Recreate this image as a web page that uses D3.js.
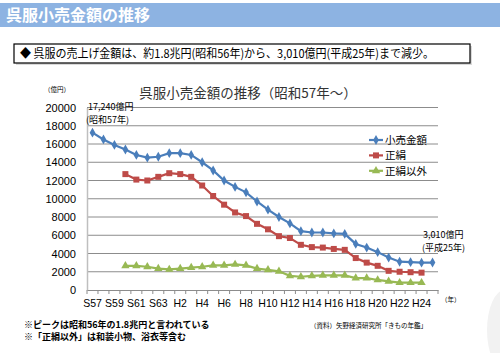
<!DOCTYPE html>
<html>
<head>
<meta charset="utf-8">
<script src="https://cdn.jsdelivr.net/npm/d3@7"></script>
<style>
  body { margin: 0; background: #fff; }
  svg { font-family: "Noto Sans CJK JP", "Noto Sans", sans-serif; display: block; }
</style>
</head>
<body>
<svg id="chart" width="500" height="353"></svg>
<script>
// categories (year labels)
var years = ["S57","S58","S59","S60","S61","S62","S63","H1","H2","H3","H4","H5","H6","H7","H8","H9",
             "H10","H11","H12","H13","H14","H15","H16","H17","H18","H19","H20","H21","H22","H23","H24","H25"];

// series values (億円), null = no data
var retail = [17240,16500,15900,15400,14800,14500,14600,15000,15000,14800,14000,13100,12000,11300,10700,9700,
              8800,8000,7300,6450,6300,6300,6200,6150,5050,4650,4150,3550,3100,3050,3000,3010];
var silk   = [null,null,null,12700,12100,12000,12400,12800,12700,12400,11450,10300,9350,8500,8100,7250,
              6650,5900,5700,4950,4700,4650,4500,4400,3500,3000,2650,2100,2000,1950,1900,null];
var other  = [null,null,null,2650,2650,2550,2350,2250,2350,2450,2550,2700,2700,2800,2700,2350,
              2200,2050,1550,1450,1550,1600,1600,1600,1300,1300,1100,950,800,800,800,null];

var yTicks = [0,2000,4000,6000,8000,10000,12000,14000,16000,18000,20000];
var xLabels = ["S57","S59","S61","S63","H2","H4","H6","H8","H10","H12","H14","H16","H18","H20","H22","H24"];

var series = [
  {name: "小売金額", values: retail, color: "#4a7ebb", marker: d3.symbolDiamond, size: 28},
  {name: "正絹",     values: silk,   color: "#be4b48", marker: d3.symbolSquare,  size: 36},
  {name: "正絹以外", values: other,  color: "#98b954", marker: d3.symbolTriangle, size: 30}
];

var svg = d3.select("#chart");

// header band
svg.append("rect").attr("x", 0).attr("y", 3).attr("width", 500).attr("height", 24).attr("fill", "#8db3e2");
svg.append("text").attr("x", 6).attr("y", 21).attr("fill", "#fff")
  .style("font-size", "16px").style("font-weight", "bold").text("呉服小売金額の推移");

// summary box
svg.append("rect").attr("x", 16).attr("y", 46).attr("width", 456).attr("height", 19).attr("fill", "#d9d9d9");
svg.append("rect").attr("x", 14).attr("y", 44).attr("width", 456).attr("height", 19)
  .attr("fill", "#fff").attr("stroke", "#000").attr("stroke-width", 1.2);
svg.append("text").attr("x", 20).attr("y", 58).attr("fill", "#000").style("font-size", "12px")
  .attr("textLength", 414).attr("lengthAdjust", "spacingAndGlyphs")
  .text("◆ 呉服の売上げ金額は、約1.8兆円(昭和56年)から、3,010億円(平成25年)まで減少。");

// chart area
var margin = {left: 87, right: 62, top: 107.5, bottom: 63};
var width = 500 - margin.left - margin.right,
    height = 353 - margin.top - margin.bottom;
var g = svg.append("g").attr("transform", "translate(" + margin.left + "," + margin.top + ")");

var x = d3.scaleBand().domain(years).range([0, width]);
var y = d3.scaleLinear().domain([0, 20000]).range([height, 0]);

// chart title
svg.append("text").attr("x", 248).attr("y", 98).attr("text-anchor", "middle").attr("fill", "#333")
  .style("font-size", "13.5px").text("呉服小売金額の推移（昭和57年～）");
svg.append("text").attr("x", 44).attr("y", 92).attr("fill", "#000").style("font-size", "6.5px").text("（億円）");

// gridlines
g.selectAll(".grid").data(yTicks.slice(1)).enter().append("line")
  .attr("x1", 0).attr("x2", width)
  .attr("y1", function(d) { return y(d); }).attr("y2", function(d) { return y(d); })
  .attr("stroke", "#8c8c8c").attr("stroke-width", 1);

// y axis
var yAxis = g.append("g")
  .call(d3.axisLeft(y).tickValues(yTicks).tickFormat(d3.format("d")).tickSize(0).tickPadding(11));
yAxis.select(".domain").attr("stroke", "#bfbfbf").attr("stroke-width", 1.5);
yAxis.selectAll("text").style("font-size", "11px").attr("fill", "#000")
  .style("font-family", "'Liberation Sans', sans-serif");

// x axis with ticks at category boundaries
var xAxis = g.append("g").attr("transform", "translate(0," + height + ")")
  .call(d3.axisBottom(x).tickValues(xLabels).tickSize(0).tickPadding(10));
xAxis.select(".domain").attr("stroke", "#8c8c8c");
xAxis.selectAll("text").style("font-size", "10.5px").attr("fill", "#000")
  .style("font-family", "'Liberation Sans', sans-serif");
g.append("g").selectAll("line").data(years.concat([null])).enter().append("line")
  .attr("x1", function(d, i) { return i * x.step(); }).attr("x2", function(d, i) { return i * x.step(); })
  .attr("y1", height).attr("y2", height + 4).attr("stroke", "#8c8c8c");
svg.append("text").attr("x", 441).attr("y", 302).style("font-size", "6.5px").attr("fill", "#000").text("（年）");

// lines and markers
var line = d3.line()
  .defined(function(d) { return d != null; })
  .x(function(d, i) { return x(years[i]) + x.bandwidth() / 2; })
  .y(function(d) { return y(d); });

series.forEach(function(s) {
  g.append("path").datum(s.values).attr("d", line)
    .attr("fill", "none").attr("stroke", s.color).attr("stroke-width", 2.2);
  g.selectAll(null).data(s.values.map(function(v, i) { return {v: v, i: i}; }).filter(function(d) { return d.v != null; }))
    .enter().append("path")
    .attr("d", d3.symbol().type(s.marker).size(s.size))
    .attr("transform", function(d) { return "translate(" + (x(years[d.i]) + x.bandwidth() / 2) + "," + y(d.v) + ")"; })
    .attr("fill", s.color);
});

// legend
var legend = svg.append("g").attr("transform", "translate(369,140)");
series.forEach(function(s, i) {
  var row = legend.append("g").attr("transform", "translate(0," + i * 15.4 + ")");
  row.append("line").attr("x1", 0).attr("x2", 14).attr("stroke", s.color).attr("stroke-width", 2.2);
  row.append("path").attr("d", d3.symbol().type(s.marker).size(s.size)).attr("transform", "translate(7,0)").attr("fill", s.color);
  row.append("text").attr("x", 16).attr("y", 4).style("font-size", "10.5px").attr("fill", "#000").text(s.name);
});

// annotations
svg.append("text").attr("x", 88).attr("y", 110).style("font-size", "9px").attr("fill", "#000").text("17,240億円");
svg.append("text").attr("x", 86).attr("y", 123).style("font-size", "9px").attr("fill", "#000").text("(昭和57年)");
svg.append("text").attr("x", 423).attr("y", 238).style("font-size", "9px").attr("fill", "#000").text("3,010億円");
svg.append("text").attr("x", 422).attr("y", 251).style("font-size", "9px").attr("fill", "#000").text("(平成25年)");

// footnotes
svg.append("text").attr("x", 24).attr("y", 328).style("font-size", "9px").style("font-weight", "bold").attr("fill", "#000")
  .text("※ピークは昭和56年の1.8兆円と言われている");
svg.append("text").attr("x", 24).attr("y", 340).style("font-size", "9px").style("font-weight", "bold").attr("fill", "#000")
  .text("※「正絹以外」は和装小物、浴衣等含む");
svg.append("text").attr("x", 310).attr("y", 328).style("font-size", "6.5px").attr("fill", "#000")
  .text("（資料）矢野経済研究所「きもの年鑑」");

// faint decoration at bottom right
svg.append("ellipse").attr("cx", 505).attr("cy", 330).attr("rx", 18).attr("ry", 40).attr("fill", "#f2f2f2");
</script>
</body>
</html>
